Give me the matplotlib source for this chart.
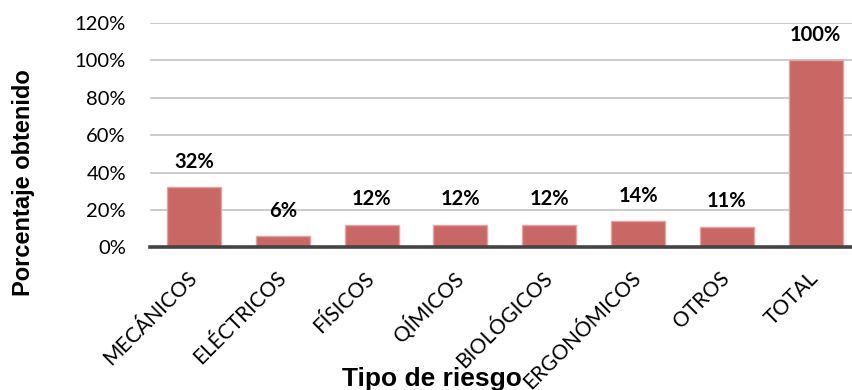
import matplotlib.pyplot as plt
from matplotlib.ticker import PercentFormatter

categorias = ['MECÁNICOS', 'ELÉCTRICOS', 'FÍSICOS', 'QÍMICOS', 'BIOLÓGICOS',
              'ERGONÓMICOS', 'OTROS', 'TOTAL']
porcentajes = [0.32, 0.06, 0.12, 0.12, 0.12, 0.14, 0.11, 1.00]
etiquetas = ['32%', '6%', '12%', '12%', '12%', '14%', '11%', '100%']
y_ticks = [0, 0.2, 0.4, 0.6, 0.8, 1.0, 1.2]

fig = plt.figure(figsize=(8.52, 3.9), dpi=100)
ax = fig.add_axes([149.6 / 852, 1 - 247.3 / 390, 1 - 149.6 / 852, (247.3 - 23) / 390])

x = range(len(categorias))
bars = ax.bar(x, porcentajes, width=0.61, color='#C96765', edgecolor='#E4A3A2',
              linewidth=1.0, zorder=3)

# etiquetas de datos encima de cada barra
for b, txt in zip(bars, etiquetas):
    ax.annotate(txt, (b.get_x() + b.get_width() / 2, b.get_height()),
                xytext=(0, 18.4), textcoords='offset points',
                ha='center', va='center', fontsize=14.5, fontweight='bold',
                family='Lato', color='black', zorder=4)

ax.set_ylim(0, 1.2)
ax.set_xlim(-0.5, (852 - 149.6) / 88.8 - 0.5)
ax.set_yticks(y_ticks)
ax.yaxis.set_major_formatter(PercentFormatter(1.0, decimals=0))
ax.grid(axis='y', color='#C4C4C4', linewidth=1.2, zorder=0)
ax.set_axisbelow(True)

for s in ['top', 'right', 'left']:
    ax.spines[s].set_visible(False)
ax.spines['bottom'].set_color('#444444')
ax.spines['bottom'].set_linewidth(2.6)
ax.spines['bottom'].set_zorder(5)

ax.tick_params(axis='y', length=0, pad=17, labelsize=14.5)
ax.tick_params(axis='x', length=0, pad=20)
for lbl in ax.get_yticklabels():
    lbl.set_family('Lato')

ax.set_xticks(list(x))
ax.set_xticklabels(categorias, rotation=45, ha='right', va='center',
                   rotation_mode='anchor', fontsize=15, family='Lato')

fig.text(432 / 852, 1 - 386 / 390, 'Tipo de riesgo', ha='center', va='baseline',
         fontsize=19, fontweight='bold', family='Liberation Sans')
fig.text(24 / 852, 1 - 183 / 390, 'Porcentaje obtenido', ha='center', va='center',
         rotation=90, fontsize=17, fontweight='bold', family='Liberation Sans')

fig.savefig('out.png', dpi=100)
